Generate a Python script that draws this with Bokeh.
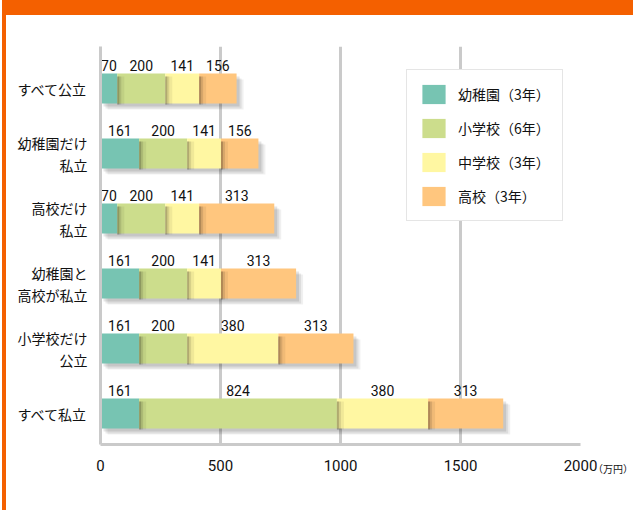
from bokeh.plotting import figure
from bokeh.models import Range1d, FixedTicker, Legend, LegendItem, ColumnDataSource, LinearAxis
from bokeh.core.properties import value
from bokeh.embed import file_html
from bokeh.resources import INLINE

categories = ["すべて公立", "幼稚園だけ\n私立", "高校だけ\n私立", "幼稚園と\n高校が私立", "小学校だけ\n公立", "すべて私立"]
series_names = ["幼稚園（3年）", "小学校（6年）", "中学校（3年）", "高校（3年）"]
kinder = [70, 161, 70, 161, 161, 161]
elementary = [200, 200, 200, 200, 200, 824]
junior = [141, 141, 141, 141, 380, 380]
high = [156, 156, 313, 313, 313, 313]
colors = ["#77C4B2", "#CCDD8C", "#FFF7A2", "#FFC67E"]
x_ticks = [0, 500, 1000, 1500, 2000]
unit_text = "（万円）"

FONT = "Roboto"
JFONT = "Noto Sans CJK JP"

W, H = 631, 510
p = figure(width=W, height=H, output_backend="svg", toolbar_location=None,
           x_range=Range1d(0, 2000), y_range=Range1d(5 + 31 / 65, -42 / 65),
           min_border_left=94, min_border_right=57, min_border_top=31, min_border_bottom=81)
p.styles = {"margin-left": "2px", "border-left": "4px solid #F46000", "border-top": "15px solid #F46000"}
p.outline_line_color = None
p.background_fill_color = "white"
p.border_fill_color = "white"

px = 2000 / 480.0  # data units per pixel in x
py = 1 / 65.0      # data units per pixel in y
bh = 30 * py

series = [kinder, elementary, junior, high]
rows = list(range(len(categories)))
starts = []
ends = []
acc = [0] * len(rows)
for s in series:
    st = list(acc)
    en = [a + v for a, v in zip(acc, s)]
    starts.append(st)
    ends.append(en)
    acc = en
totals = acc

# grid
p.xgrid.ticker = FixedTicker(ticks=x_ticks)
p.xgrid.grid_line_color = "#CACACA"
p.xgrid.grid_line_width = 3
p.ygrid.grid_line_color = None

# drop shadow
for (dx, dy, a) in [(3, 3, 0.10), (5, 5, 0.08), (7, 6, 0.06)]:
    p.hbar(y=[r + dy * py for r in rows], left=[dx * px] * len(rows),
           right=[t + dx * px for t in totals], height=bh,
           fill_color="black", fill_alpha=a, line_color=None)

# segments
seg_renderers = []
for i, s in enumerate(series):
    src = ColumnDataSource(dict(y=rows, left=starts[i], right=ends[i]))
    r = p.hbar(y="y", left="left", right="right", height=bh, source=src,
               fill_color=colors[i], line_color=None)
    seg_renderers.append(r)

# shading at left edge of segments 2..4 (shadow of the previous one)
for i in range(1, 4):
    for (w, a) in [(2, 0.18), (4, 0.10), (7, 0.06)]:
        p.hbar(y=[r + 2 * py for r in rows], left=starts[i],
               right=[st + w * px for st in starts[i]], height=bh - 2 * py,
               fill_color="black", fill_alpha=a, line_color=None)

# data labels
for i, s in enumerate(series):
    cx = [(a + b) / 2 for a, b in zip(starts[i], ends[i])]
    ly = [r - bh / 2 - 3 * py for r in rows]
    p.text(x=cx, y=ly, text=[str(v) for v in s], text_align="center", text_baseline="bottom",
           text_font=value(FONT), text_font_size="14px", text_color="#111111")

# axes
p.xaxis.ticker = FixedTicker(ticks=x_ticks)
p.xaxis.axis_line_color = "#CACACA"
p.xaxis.axis_line_width = 3
p.xaxis.major_tick_line_color = None
p.xaxis.minor_tick_line_color = None
p.xaxis.major_label_text_font = FONT
p.xaxis.major_label_text_font_size = "15px"
p.xaxis.major_label_text_color = "#111111"
p.xaxis.major_label_standoff = 9

# unit next to the last tick: a second, label-only axis pulled up to the first one's line
unit_axis = LinearAxis(ticker=FixedTicker(ticks=[x_ticks[-1]]),
                       major_label_overrides={x_ticks[-1]: "\u3000" * 7 + unit_text},
                       axis_line_color=None, major_tick_line_color=None, minor_tick_line_color=None,
                       major_label_text_font=JFONT, major_label_text_font_size="10px",
                       major_label_text_color="#111111", major_label_text_align="center",
                       major_label_standoff=-19)
p.add_layout(unit_axis, "below")

p.yaxis.ticker = FixedTicker(ticks=rows)
p.yaxis.major_label_overrides = {i: c for i, c in enumerate(categories)}
p.yaxis.axis_line_color = "#CACACA"
p.yaxis.axis_line_width = 3
p.yaxis.major_tick_line_color = None
p.yaxis.minor_tick_line_color = None
p.yaxis.major_label_text_font = JFONT
p.yaxis.major_label_text_font_size = "14px"
p.yaxis.major_label_text_color = "#111111"
p.yaxis.major_label_standoff = 7
p.yaxis.major_label_text_line_height = 1.1

legend = Legend(items=[LegendItem(label=n, renderers=[r]) for n, r in zip(series_names, seg_renderers)],
                location=(306, 223))
legend.glyph_width = 29
legend.glyph_height = 24
legend.spacing = 10
legend.padding = 12
legend.margin = 0
legend.label_standoff = 10
legend.label_text_font = JFONT
legend.label_text_font_size = "14px"
legend.label_text_color = "#111111"
legend.border_line_color = "#CCCCCC"
legend.border_line_width = 1
legend.background_fill_alpha = 1
p.add_layout(legend)

open("out.html", "w").write(file_html(p, INLINE))
